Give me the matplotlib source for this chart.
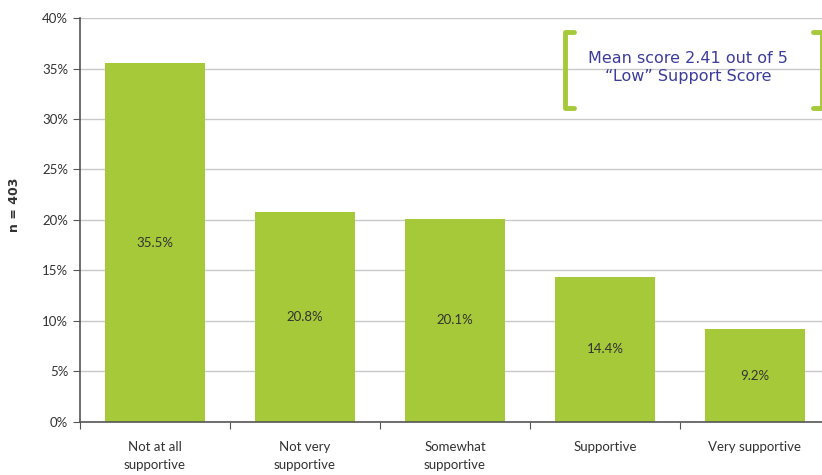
import matplotlib.pyplot as plt
from matplotlib.ticker import PercentFormatter

categories = ['Not at all\nsupportive', 'Not very\nsupportive', 'Somewhat\nsupportive',
              'Supportive', 'Very supportive']
values = [35.5, 20.8, 20.1, 14.4, 9.2]
yticks = [0, 5, 10, 15, 20, 25, 30, 35, 40]
note = 'Mean score 2.41 out of 5\n\u201cLow\u201d Support Score'

bar_color = '#a5c939'
text_color = '#333333'

plt.rcParams['font.family'] = ['Lato', 'DejaVu Sans']

fig = plt.figure(figsize=(8.22, 4.75), dpi=100)
ax = fig.add_axes([0.0973, 0.1116, 0.9124, 0.8505])

x = list(range(len(categories)))
ax.bar(x, values, width=0.667, color=bar_color, zorder=2)
for xi, v in zip(x, values):
    ax.text(xi, v / 2, f'{v:.1f}%', ha='center', va='center', fontsize=9.5, color=text_color, zorder=3)

ax.set_xlim(-0.5, len(categories) - 0.5)
ax.set_ylim(0, 40)
ax.set_yticks(yticks)
ax.yaxis.set_major_formatter(PercentFormatter(decimals=0))
ax.yaxis.grid(True, color='#c8c8c8', linewidth=1, zorder=0)

# category labels between boundary ticks
ax.set_xticks([i - 0.5 for i in range(len(categories) + 1)])
ax.set_xticklabels([])
ax.set_xticks(x, minor=True)
ax.set_xticklabels(categories, minor=True, fontsize=9.5, color=text_color, linespacing=1.6)
ax.tick_params(axis='x', which='minor', length=0, pad=14)
ax.tick_params(axis='x', which='major', length=5, color='#555555')
ax.tick_params(axis='y', labelsize=9.5, labelcolor=text_color, length=5, color='#555555')

for side in ['top', 'right']:
    ax.spines[side].set_visible(False)
ax.spines['left'].set_color('#555555')
ax.spines['bottom'].set_color('#555555')
ax.spines['left'].set_linewidth(1.2)
ax.spines['bottom'].set_linewidth(1.2)

ax.set_ylabel('n = 403', fontsize=9, fontweight='bold', color=text_color, family='DejaVu Sans')
ax.yaxis.set_label_coords(-0.079, 0.537)

# note box with green brackets
bx0, bx1, by0, by1 = 2.733, 4.447, 31.1, 38.6
serif = 0.06
ax.plot([bx0 + serif, bx0, bx0, bx0 + serif], [by1, by1, by0, by0],
        color=bar_color, linewidth=3.5, solid_capstyle='round', solid_joinstyle='round', zorder=4)
ax.plot([bx1 - serif, bx1, bx1, bx1 - serif], [by1, by1, by0, by0],
        color=bar_color, linewidth=3.5, solid_capstyle='round', solid_joinstyle='round', zorder=4)
ax.text(3.553, 35.1, note, ha='center', va='center', fontsize=11.5, color='#3c3c9c',
        family='DejaVu Sans', linespacing=1.3, zorder=4)

fig.savefig('out.png', dpi=100)
